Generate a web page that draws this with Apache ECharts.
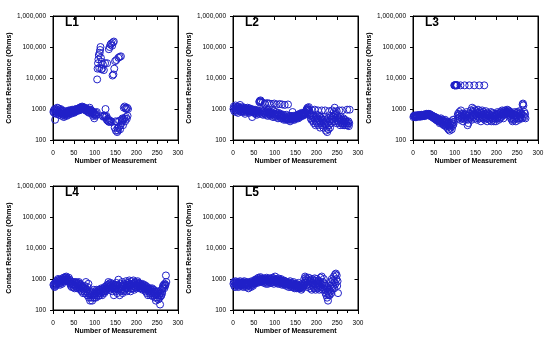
<!DOCTYPE html>
<html><head><meta charset="utf-8">
<script src="https://cdn.jsdelivr.net/npm/echarts@6/dist/echarts.min.js"></script>
<style>html,body{margin:0;padding:0;background:#fff}#c{width:550px;height:341px}</style>
</head><body><div id="c"></div>
<script>
// ---- data: contact resistance (Ohms) per measurement number (1..N) ----
const panelNames = ['L1', 'L2', 'L3', 'L4', 'L5'];

const L1 = [
  800, 900, 750, 1000, 450, 850, 700, 950, 800, 1100,
  900, 700, 1050, 800, 650, 950, 750, 1000, 850, 700,
  600, 800, 700, 900, 650, 550, 750, 600, 700, 800,
  650, 750, 600, 850, 700, 800, 650, 900, 750, 850,
  800, 900, 700, 850, 750, 950, 800, 900, 850, 750,
  850, 950, 800, 900, 1000, 850, 950, 900, 1000, 900,
  950, 1050, 900, 1100, 1000, 950, 1150, 1050, 1000, 1200,
  1100, 1000, 1150, 1050, 950, 1100, 1000, 900, 1050, 950,
  900, 850, 1000, 800, 950, 900, 750, 1100, 850, 950,
  800, 900, 700, 850, 750, 600, 800, 700, 500, 650,
  700, 600, 750, 650, 800, 9000, 20000, 30000, 40000, 55000,
  21000, 65000, 80000, 100000, 45000, 19000, 33000, 20000, 600, 27000,
  560, 18000, 620, 580, 30000, 1000, 550, 600, 450, 30000,
  420, 480, 400, 85000, 380, 100000, 420, 120000, 400, 130000,
  380, 110000, 12000, 140000, 13000, 150000, 20000, 250, 35000, 400,
  200, 38000, 380, 180, 240, 200, 45000, 260, 420, 48000,
  220, 300, 50000, 350, 450, 400, 500, 300, 450, 1100,
  500, 1200, 400, 1050, 550, 1000, 480, 1100, 600, 1000
];

const L2 = [
  1000, 1200, 850, 1100, 950, 1300, 800, 1050, 900, 1150,
  1000, 750, 1200, 900, 1100, 850, 1350, 950, 1000, 800,
  1050, 900, 1150, 850, 1000, 800, 1100, 950, 700, 1000,
  900, 1050, 800, 950, 1100, 850, 1000, 900, 750, 1050,
  850, 950, 800, 1000, 900, 550, 850, 950, 800, 900,
  750, 850, 950, 700, 900, 800, 650, 850, 750, 900,
  800, 700, 1700, 1800, 1600, 1900, 1750, 900, 700, 800,
  1600, 650, 850, 750, 900, 1500, 700, 800, 650, 850,
  750, 1550, 600, 900, 700, 800, 1500, 650, 750, 600,
  800, 700, 1450, 650, 750, 550, 850, 700, 1500, 600,
  700, 550, 800, 650, 1400, 600, 700, 500, 750, 600,
  650, 1450, 550, 700, 500, 650, 600, 1400, 550, 500,
  650, 450, 600, 1350, 500, 550, 450, 650, 500, 550,
  450, 1400, 500, 600, 450, 550, 400, 500, 600, 450,
  550, 500, 800, 450, 600, 500, 550, 450, 600, 500,
  550, 600, 500, 650, 550, 600, 500, 650, 600, 700,
  550, 650, 700, 600, 750, 650, 600, 700, 650, 750,
  700, 650, 800, 700, 750, 900, 1000, 850, 1100, 950,
  1000, 1150, 900, 800, 700, 600, 500, 450, 650, 900,
  550, 400, 600, 350, 500, 950, 450, 300, 550, 400,
  650, 350, 500, 900, 300, 450, 600, 400, 250, 550,
  350, 500, 900, 300, 450, 400, 250, 550, 350, 450,
  900, 300, 200, 400, 250, 180, 350, 500, 220, 300,
  850, 400, 250, 450, 600, 350, 500, 900, 450, 600,
  550, 800, 400, 1100, 650, 500, 700, 350, 850, 450,
  600, 400, 500, 350, 900, 450, 300, 550, 400, 350,
  450, 900, 350, 300, 500, 400, 350, 300, 450, 400,
  350, 300, 400, 950, 300, 350, 400, 280, 350, 950
];

const L3 = [
  550, 600, 580, 620, 560, 600, 540, 620, 590, 610,
  570, 630, 600, 580, 640, 590, 560, 620, 600, 650,
  610, 580, 640, 600, 620, 660, 590, 630, 610, 680,
  650, 620, 700, 640, 680, 660, 620, 700, 650, 620,
  680, 600, 640, 580, 620, 560, 600, 520, 580, 550,
  500, 560, 480, 540, 450, 520, 480, 420, 500, 450,
  400, 480, 420, 350, 450, 380, 500, 420, 350, 450,
  380, 320, 420, 300, 400, 350, 450, 280, 380, 320,
  400, 250, 350, 300, 220, 380, 280, 200, 350, 250,
  300, 400, 220, 350, 280, 450, 320, 380, 5800, 5800,
  5800, 5900, 5800, 5800, 5900, 5800, 600, 700, 500, 650,
  800, 550, 450, 5800, 900, 600, 500, 700, 550, 400,
  650, 500, 600, 5800, 450, 550, 650, 700, 800, 600,
  300, 450, 350, 600, 5800, 550, 700, 500, 900, 600,
  450, 1100, 650, 800, 550, 1000, 5800, 700, 900, 500,
  650, 850, 600, 450, 750, 950, 550, 700, 5800, 500,
  850, 600, 400, 750, 550, 900, 650, 500, 800, 600,
  5800, 450, 700, 550, 850, 500, 650, 400, 750, 600,
  600, 500, 700, 450, 650, 550, 800, 400, 600, 500,
  750, 450, 600, 400, 700, 550, 500, 650, 400, 600,
  700, 500, 800, 550, 650, 450, 750, 600, 500, 700,
  800, 550, 650, 900, 600, 750, 500, 850, 650, 700,
  900, 750, 800, 850, 700, 950, 800, 650, 900, 750,
  850, 700, 600, 800, 500, 700, 450, 650, 400, 550,
  700, 450, 600, 800, 500, 650, 400, 750, 550, 600,
  800, 500, 700, 450, 850, 600, 500, 750, 550, 650,
  700, 500, 1400, 1500, 1300, 600, 800, 550, 700, 500
];

const L4 = [
  650, 600, 700, 550, 750, 650, 600, 800, 700, 900,
  750, 1000, 850, 700, 950, 800, 650, 900, 750, 1000,
  850, 700, 950, 800, 1100, 900, 1000, 850, 1150, 950,
  1100, 1200, 950, 1050, 900, 1000, 850, 1100, 800, 950,
  700, 850, 600, 750, 550, 800, 650, 700, 550, 800,
  650, 500, 750, 600, 800, 550, 700, 500, 650, 750,
  550, 800, 600, 500, 700, 450, 650, 550, 400, 600,
  500, 350, 550, 450, 400, 600, 350, 500, 800, 400,
  450, 300, 550, 350, 700, 250, 400, 300, 200, 350,
  250, 400, 300, 200, 350, 250, 300, 450, 250, 350,
  300, 400, 250, 350, 450, 300, 400, 350, 280, 450,
  350, 400, 300, 450, 350, 500, 400, 300, 450, 380,
  500, 400, 350, 550, 450, 400, 500, 600, 450, 550,
  650, 500, 800, 550, 700, 450, 600, 750, 500, 650,
  550, 400, 700, 500, 600, 300, 550, 450, 650, 500,
  400, 750, 550, 350, 650, 500, 950, 450, 600, 300,
  500, 700, 400, 600, 450, 800, 350, 550, 650, 400,
  600, 450, 700, 500, 850, 550, 400, 650, 500, 750,
  600, 450, 900, 550, 700, 400, 650, 500, 850, 600,
  700, 500, 900, 600, 450, 750, 550, 650, 800, 500,
  700, 600, 850, 550, 650, 750, 500, 600, 700, 550,
  650, 500, 600, 700, 450, 600, 550, 500, 650, 450,
  550, 400, 600, 500, 350, 550, 450, 300, 500, 400,
  450, 350, 500, 300, 400, 450, 350, 500, 280, 400,
  350, 450, 300, 400, 250, 350, 200, 300, 400, 250,
  300, 350, 220, 400, 300, 250, 150, 350, 280, 300,
  450, 350, 500, 600, 550, 650, 500, 700, 600, 650,
  1300, 800
];

const L5 = [
  700, 800, 600, 750, 550, 850, 650, 700, 800, 600,
  650, 750, 550, 800, 700, 600, 850, 650, 750, 700,
  600, 750, 650, 800, 550, 700, 850, 600, 750, 650,
  700, 550, 800, 650, 600, 750, 500, 700, 650, 800,
  600, 750, 550, 700, 850, 650, 750, 600, 800, 700,
  850, 700, 950, 750, 900, 800, 1000, 850, 750, 950,
  1100, 900, 800, 1000, 850, 1150, 950, 800, 1050, 900,
  1000, 850, 950, 750, 1050, 900, 800, 1000, 700, 900,
  1100, 850, 950, 700, 1000, 800, 900, 1050, 750, 950,
  850, 1000, 750, 900, 1100, 800, 950, 700, 1000, 850,
  1200, 900, 800, 1000, 750, 950, 850, 700, 1050, 900,
  800, 950, 700, 850, 1000, 750, 900, 650, 850, 800,
  700, 900, 750, 650, 850, 700, 800, 600, 750, 700,
  650, 800, 700, 550, 750, 650, 850, 600, 700, 550,
  750, 600, 650, 550, 800, 600, 700, 500, 650, 600,
  550, 700, 500, 650, 600, 550, 750, 500, 600, 550,
  500, 650, 550, 450, 600, 500, 700, 550, 600, 650,
  1000, 750, 1200, 900, 1100, 800, 650, 1000, 550, 900,
  700, 1100, 600, 850, 500, 950, 650, 800, 450, 1000,
  600, 750, 550, 900, 500, 1050, 700, 450, 850, 600,
  1000, 550, 750, 500, 900, 650, 450, 800, 600, 1100,
  700, 550, 1200, 650, 450, 800, 500, 1000, 600, 700,
  450, 350, 600, 300, 500, 250, 400, 200, 350, 300,
  450, 300, 600, 400, 800, 350, 1000, 500, 700, 900,
  600, 1200, 500, 800, 1400, 700, 1500, 1000, 1300, 600,
  850, 350
];

const panelData = [L1, L2, L3, L4, L5];

const xTickValues = [0, 50, 100, 150, 200, 250, 300];
const yTickValues = [100, 1000, 10000, 100000, 1000000];
const yTickLabels = ['100', '1000', '10,000', '100,000', '1,000,000'];
const xAxisTitle = 'Number of Measurement';
const yAxisTitle = 'Contact Resistance (Ohms)';

// ---- layout / style ----
const FONT = "'Liberation Sans', Arial, sans-serif";
const BLUE = '#2020c8';
const gridPos = [[53, 16], [233, 16], [413, 16], [53, 186], [233, 186]];
const GW = 125, GH = 124;

const ls = () => ({ color: '#000', width: 1 });
const xMin = xTickValues[0], xMax = xTickValues[xTickValues.length - 1];
const xInt = xTickValues[1] - xTickValues[0];
const yMin = yTickValues[0], yMax = yTickValues[yTickValues.length - 1];

const grids = [], xAxes = [], yAxes = [], series = [], titles = [];
panelData.forEach((arr, i) => {
  const [l, t] = gridPos[i];
  grids.push({
    left: l, top: t, width: GW, height: GH, containLabel: false,
    show: true, borderColor: '#000', borderWidth: 1, backgroundColor: 'rgba(0,0,0,0)'
  });

  const xi = xAxes.length;
  xAxes.push({
    gridIndex: i, type: 'value', min: xMin, max: xMax, interval: xInt, position: 'bottom',
    axisLine: { show: true, onZero: false, lineStyle: ls() },
    axisTick: { show: true, length: 4, lineStyle: ls() },
    minorTick: { show: true, splitNumber: 2, length: 3, lineStyle: ls() },
    splitLine: { show: false },
    axisLabel: { fontSize: 6.5, color: '#000', fontFamily: FONT, margin: 10 },
    name: xAxisTitle, nameLocation: 'middle', nameGap: 17,
    nameTextStyle: { fontSize: 7, fontWeight: 'bold', color: '#000', fontFamily: FONT }
  });
  xAxes.push({
    gridIndex: i, type: 'value', min: xMin, max: xMax, interval: xInt, position: 'top',
    axisLine: { show: true, onZero: false, lineStyle: { color: '#000', width: 1 } },
    axisTick: { show: true, inside: true, length: 4, lineStyle: ls() },
    splitLine: { show: false }, axisLabel: { show: false }
  });

  const yi = yAxes.length;
  yAxes.push({
    gridIndex: i, type: 'log', logBase: 10, min: yMin, max: yMax, position: 'left',
    axisLine: { show: true, onZero: false, lineStyle: ls() },
    axisTick: { show: true, length: 3, lineStyle: ls() },
    splitLine: { show: false },
    axisLabel: {
      fontSize: 6.5, color: '#000', fontFamily: FONT, margin: 7,
      formatter: v => { const k = yTickValues.findIndex(tv => Math.abs(tv - v) / tv < 1e-6); return k >= 0 ? yTickLabels[k] : ''; }
    },
    name: yAxisTitle, nameLocation: 'middle', nameGap: 40, nameRotate: 90,
    nameTextStyle: { fontSize: 7, fontWeight: 'bold', color: '#000', fontFamily: FONT }
  });
  yAxes.push({
    gridIndex: i, type: 'log', logBase: 10, min: yMin, max: yMax, position: 'right',
    axisLine: { show: true, onZero: false, lineStyle: { color: '#000', width: 1 } },
    axisTick: { show: true, inside: true, length: 3.5, lineStyle: ls() },
    splitLine: { show: false }, axisLabel: { show: false }
  });

  series.push({
    type: 'scatter', xAxisIndex: xi, yAxisIndex: yi,
    data: arr.map((v, j) => [j + 1, v]),
    symbol: 'circle', symbolSize: 7, silent: true,
    itemStyle: { color: 'rgba(0,0,0,0)', borderColor: BLUE, borderWidth: 1, opacity: 1 }
  });
  titles.push({
    text: panelNames[i], left: l + 12, top: t + 1, padding: 0,
    textStyle: { fontSize: 12, fontWeight: 'bold', color: '#000', fontFamily: FONT }
  });
});

const chart = echarts.init(document.getElementById('c'), null, { renderer: 'canvas' });
chart.setOption({
  backgroundColor: '#fff', animation: false,
  title: titles, grid: grids, xAxis: xAxes, yAxis: yAxes, series
});
</script></body></html>
